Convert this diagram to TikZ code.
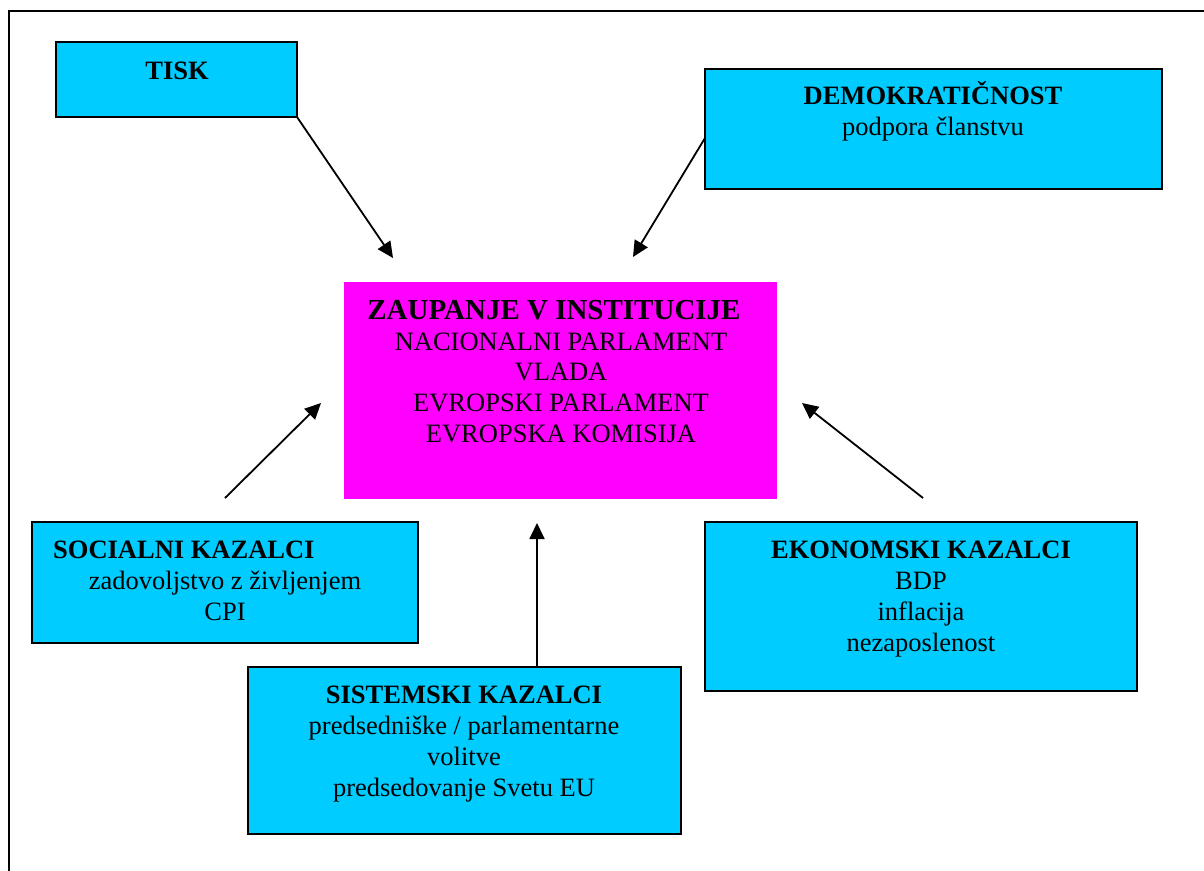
\documentclass[tikz,border=0pt]{standalone}
\usepackage{fontspec}
\setmainfont{Liberation Serif}
\usetikzlibrary{arrows.meta}
\definecolor{boxcyan}{HTML}{00CCFF}
\definecolor{boxmag}{HTML}{FF00FF}
\begin{document}
\begin{tikzpicture}[x=1pt,y=-1pt,
  cbox/.style={draw=black, line width=2pt, fill=boxcyan, rectangle, anchor=north west, inner sep=0pt, outer sep=0pt},
  mbox/.style={fill=boxmag, rectangle, anchor=north west, inner sep=0pt, outer sep=0pt},
  txt/.style={font=\fontsize{26.5}{31}\selectfont, inner sep=0pt, anchor=base},
  ttl/.style={inner sep=0pt, anchor=base, font=\fontsize{26.5}{31}\selectfont\bfseries},
  arr/.style={line width=1.8pt, -{Triangle[length=16pt,width=15pt]}}]
\useasboundingbox (0,0) rectangle (1204,870);
\clip (0,0) rectangle (1204,870);
\draw[line width=2pt] (9,11) rectangle (1240,900);
% boxes
\node[cbox, minimum width=241pt, minimum height=75pt] (tisk) at (56,42) {};
\node[cbox, minimum width=457pt, minimum height=120pt] (demo) at (705,69) {};
\node[mbox, minimum width=433pt, minimum height=217pt] (zaup) at (344,282) {};
\node[cbox, minimum width=386pt, minimum height=121pt] (soc) at (32,522) {};
\node[cbox, minimum width=432pt, minimum height=169pt] (eko) at (705,522) {};
\node[cbox, minimum width=433pt, minimum height=167pt] (sis) at (248,667) {};
% texts
\node[ttl] (tiskT) at (177,79) {TISK};
\node[ttl] (demoT) at (933,104) {DEMOKRATIČNOST};
\node[txt] (demoB) at (933,135) {podpora članstvu};
\node[ttl, font=\fontsize{29}{33}\selectfont\bfseries] (zaupT) at (554,319) {ZAUPANJE V INSTITUCIJE};
\node[txt, font=\fontsize{26.5}{30.7}\selectfont] (zaupB) at (561,350) {\begin{tabular}[t]{@{}c@{}}NACIONALNI PARLAMENT\\VLADA\\EVROPSKI PARLAMENT\\EVROPSKA KOMISIJA\end{tabular}};
\node[ttl, anchor=base west] (socT) at (53,558) {SOCIALNI KAZALCI};
\node[txt] (socB) at (225,589) {\begin{tabular}[t]{@{}c@{}}zadovoljstvo z življenjem\\CPI\end{tabular}};
\node[ttl] (ekoT) at (921,558) {EKONOMSKI KAZALCI};
\node[txt] (ekoB) at (921,589) {\begin{tabular}[t]{@{}c@{}}BDP\\inflacija\\nezaposlenost\end{tabular}};
\node[ttl] (sisT) at (464,703) {SISTEMSKI KAZALCI};
\node[txt] (sisB) at (464,734) {\begin{tabular}[t]{@{}c@{}}predsedniške / parlamentarne\\volitve\\predsedovanje Svetu EU\end{tabular}};
% arrows
\coordinate (tiskTip) at (393,258);
\coordinate (demoTail) at (705,138);
\coordinate (demoTip) at (633,257);
\coordinate (socTail) at (225,498);
\coordinate (socTip) at (321,403);
\coordinate (ekoTail) at (923,498);
\coordinate (ekoTip) at (802,403);
\coordinate (sisTip) at (537,523);
\draw[arr] (tisk.south east) -- (tiskTip);
\draw[arr] (demoTail) -- (demoTip);
\draw[arr] (socTail) -- (socTip);
\draw[arr] (ekoTail) -- (ekoTip);
\draw[arr] (sis.north -| sisTip) -- (sisTip);
\end{tikzpicture}
\end{document}
